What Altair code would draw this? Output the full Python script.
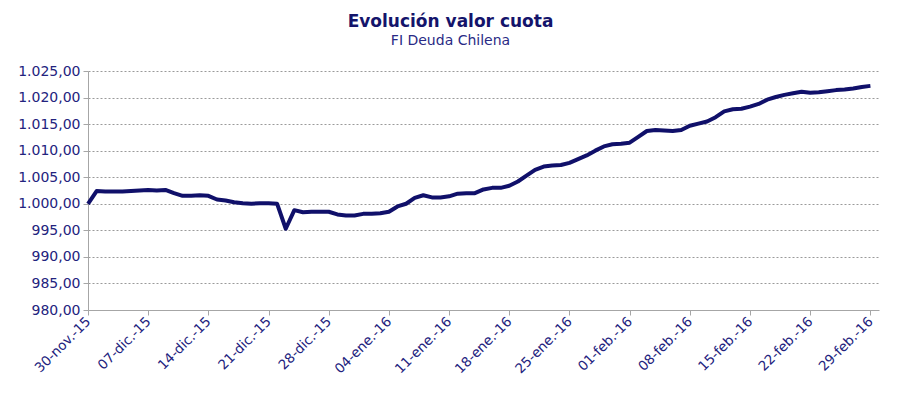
import altair as alt
import pandas as pd

title_text = "Evolución valor cuota"
subtitle_text = "FI Deuda Chilena"

start_date = "2015-11-30"
valor_cuota = [
    1000.0, 1002.4, 1002.3, 1002.3, 1002.3, 1002.4, 1002.5, 1002.6, 1002.5, 1002.6,
    1002.0, 1001.5, 1001.5, 1001.6, 1001.5, 1000.8, 1000.6, 1000.3, 1000.1, 1000.0,
    1000.1, 1000.1, 1000.0, 995.3, 998.8, 998.4, 998.5, 998.5, 998.5, 998.0,
    997.8, 997.8, 998.1, 998.1, 998.2, 998.5, 999.5, 1000.0, 1001.1, 1001.6,
    1001.2, 1001.2, 1001.4, 1001.9, 1002.0, 1002.0, 1002.7, 1003.0, 1003.0, 1003.4,
    1004.2, 1005.3, 1006.4, 1007.0, 1007.2, 1007.3, 1007.7, 1008.4, 1009.1, 1010.0,
    1010.8, 1011.2, 1011.3, 1011.5, 1012.6, 1013.7, 1013.9, 1013.8, 1013.7, 1013.9,
    1014.7, 1015.1, 1015.5, 1016.3, 1017.4, 1017.8, 1017.9, 1018.3, 1018.8, 1019.6,
    1020.1, 1020.5, 1020.8, 1021.1, 1020.9, 1021.0, 1021.2, 1021.4, 1021.5, 1021.7,
    1022.0, 1022.2,
]
month_abbr = ["ene", "feb", "mar", "abr", "may", "jun", "jul", "ago", "sep", "oct", "nov", "dic"]
y_ticks = [980, 985, 990, 995, 1000, 1005, 1010, 1015, 1020, 1025]
x_tick_dates = pd.date_range("2015-11-30", "2016-02-29", freq="7D")

dates = pd.date_range(start_date, periods=len(valor_cuota), freq="D")
df = pd.DataFrame({"fecha": dates.strftime("%Y-%m-%d"), "valor": valor_cuota})

navy = "#10106a"
label_col = "#23237e"
font = "DejaVu Sans"

months_expr = "[" + ",".join("'" + m + "'" for m in month_abbr) + "]"
x_label_expr = ("utcFormat(datum.value, '%d') + '-' + " + months_expr +
                "[utcmonth(datum.value)] + '.-' + utcFormat(datum.value, '%y')")
y_label_expr = ("replace(replace(replace(format(datum.value, ',.2f'), ',', '#'), '.', ','), '#', '.')")

x_vals = [alt.DateTime(year=d.year, month=d.month, date=d.day, utc=True) for d in x_tick_dates]

chart = alt.Chart(df).mark_line(color=navy, strokeWidth=4, strokeJoin="round").encode(
    x=alt.X("fecha:T",
            scale=alt.Scale(type="utc",
                            domain=[alt.DateTime(year=2015, month=11, date=30, utc=True),
                                    alt.DateTime(year=2016, month=3, date=1, utc=True)]),
            axis=alt.Axis(values=x_vals, labelExpr=x_label_expr, labelAngle=-45,
                          labelAlign="right", labelBaseline="middle", labelPadding=4,
                          grid=False, tickSize=5, tickColor="#a6a6a6",
                          domainColor="#a6a6a6", labelColor=label_col, labelFontSize=13.5,
                          labelFont=font, title=None, labelOverlap=False)),
    y=alt.Y("valor:Q",
            scale=alt.Scale(domain=[980, 1025], nice=False, zero=False),
            axis=alt.Axis(values=y_ticks, labelExpr=y_label_expr, grid=True,
                          gridColor="#9a9a9a", gridDash=[2, 2], gridWidth=1,
                          tickSize=5, tickColor="#a6a6a6", domainColor="#a6a6a6",
                          labelColor=label_col, labelFontSize=14, labelFont=font,
                          labelPadding=3, title=None)),
).properties(
    width=791,
    height=239,
    autosize=alt.AutoSizeParams(type="none"),
    padding={"left": 80, "top": 63, "right": 13, "bottom": 86},
    view=alt.ViewBackground(stroke="transparent", strokeWidth=0, strokeOpacity=0),
    title=alt.TitleParams(text=title_text, subtitle=subtitle_text, anchor="middle",
                          dx=-33, offset=15, font=font, fontSize=17, fontWeight="bold",
                          color="#14146b", subtitleFont=font, subtitleFontSize=14,
                          subtitleColor="#2a2a85", subtitlePadding=3),
).configure_view(stroke="transparent", strokeWidth=0, strokeOpacity=0).configure(background="white")

chart.save("out.html", embed_options={"renderer": "svg", "actions": False})
